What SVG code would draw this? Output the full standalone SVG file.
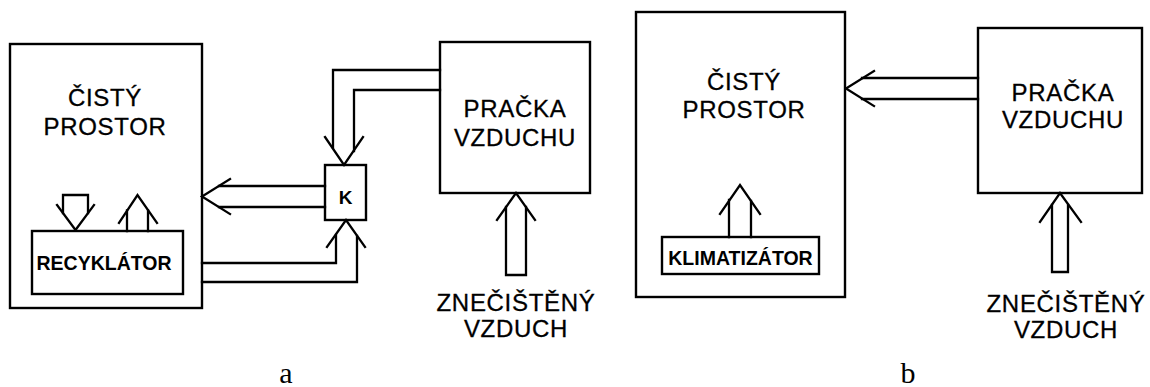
<svg xmlns="http://www.w3.org/2000/svg" width="1150" height="387" viewBox="0 0 1150 387">
<style>
.box{fill:none;stroke:#000;stroke-width:2.4}
.ln{fill:none;stroke:#000;stroke-width:2.3;stroke-linejoin:miter;stroke-linecap:square}
.t{font-family:"Liberation Sans",Arial,sans-serif;font-size:24px;letter-spacing:0.7px;text-anchor:middle;fill:#000;stroke:#000;stroke-width:0.3}
.tb{font-family:"Liberation Sans",Arial,sans-serif;font-size:19.5px;font-weight:bold;text-anchor:middle;fill:#000}
.lab{font-family:"Liberation Serif","Times New Roman",serif;font-size:30px;text-anchor:middle;fill:#000}
</style>
<rect width="1150" height="387" fill="#fff"/>

<!-- Diagram a -->
<g id="cisty-prostor-a">
<rect class="box" x="10" y="44" width="192" height="264"/>
<text class="t" x="105" y="106">ČISTÝ</text>
<text class="t" x="105" y="135">PROSTOR</text>
</g>
<g id="recyklator">
<rect class="box" x="32" y="231" width="151" height="63"/>
<text class="tb" x="104" y="270">RECYKLÁTOR</text>
</g>
<g id="k">
<rect class="box" x="325" y="165" width="41" height="55"/>
<text class="tb" x="345.5" y="204" style="font-size:19px">K</text>
</g>
<g id="pracka-a">
<rect class="box" x="440" y="42" width="150" height="151"/>
<text class="t" x="515" y="117">PRAČKA</text>
<text class="t" x="515" y="146">VZDUCHU</text>
</g>
<g id="znecisteny-a">
<text class="t" x="516" y="311">ZNEČIŠTĚNÝ</text>
<text class="t" x="516" y="337">VZDUCH</text>
</g>
<text class="lab" x="286" y="383">a</text>

<!-- Diagram b -->
<g id="cisty-prostor-b">
<rect class="box" x="636" y="12" width="209" height="285"/>
<text class="t" x="744" y="90">ČISTÝ</text>
<text class="t" x="744" y="118">PROSTOR</text>
</g>
<g id="klimatizator">
<rect class="box" x="662" y="237" width="157" height="37"/>
<text class="tb" x="740.5" y="265">KLIMATIZÁTOR</text>
</g>
<g id="pracka-b">
<rect class="box" x="978" y="28" width="164" height="165"/>
<text class="t" x="1063" y="101">PRAČKA</text>
<text class="t" x="1063" y="128">VZDUCHU</text>
</g>
<g id="znecisteny-b">
<text class="t" x="1066" y="312">ZNEČIŠTĚNÝ</text>
<text class="t" x="1066" y="338">VZDUCH</text>
</g>
<text class="lab" x="908" y="383">b</text>

<g id="connectors">
<!-- a: down arrow into recyklator -->
<path class="ln" d="M63,213 V195 H88 V213"/>
<path class="ln" d="M57,205 L75.5,230 L94,205"/>
<!-- a: up arrow from recyklator -->
<path class="ln" d="M127,231 V210.5 M148,231 V210.5"/>
<path class="ln" d="M119,223 L137.5,195 L157,223"/>
<!-- a: K to clean space -->
<path class="ln" d="M325,186 H219 M325,207 H219"/>
<path class="ln" d="M230,179 L202,196.5 L230,214"/>
<!-- a: pracka to K (top) -->
<path class="ln" d="M440,70 H333 V147.5 M440,90 H354 V151"/>
<path class="ln" d="M325,137 L344,165 L363,137"/>
<!-- a: recyklator/clean space to K (bottom) -->
<path class="ln" d="M202,263 H336 V235 M202,282 H357 V236"/>
<path class="ln" d="M327,247 L346,220 L365,247"/>
<!-- a: polluted air into pracka -->
<path class="ln" d="M506,207 V275 H526 V207"/>
<path class="ln" d="M497,220 L516,193 L535,220"/>

<!-- b: up arrow from klimatizator -->
<path class="ln" d="M729,237 V200 M751,237 V201"/>
<path class="ln" d="M720,214 L740,185 L760,214"/>
<!-- b: pracka to clean space -->
<path class="ln" d="M978,78 H862 M978,99 H862"/>
<path class="ln" d="M874,71 L846,88.5 L874,106"/>
<!-- b: polluted air into pracka -->
<path class="ln" d="M1052,205 V272 H1068 V205"/>
<path class="ln" d="M1040,222 L1060,193 L1081,222"/>
</g>
</svg>
